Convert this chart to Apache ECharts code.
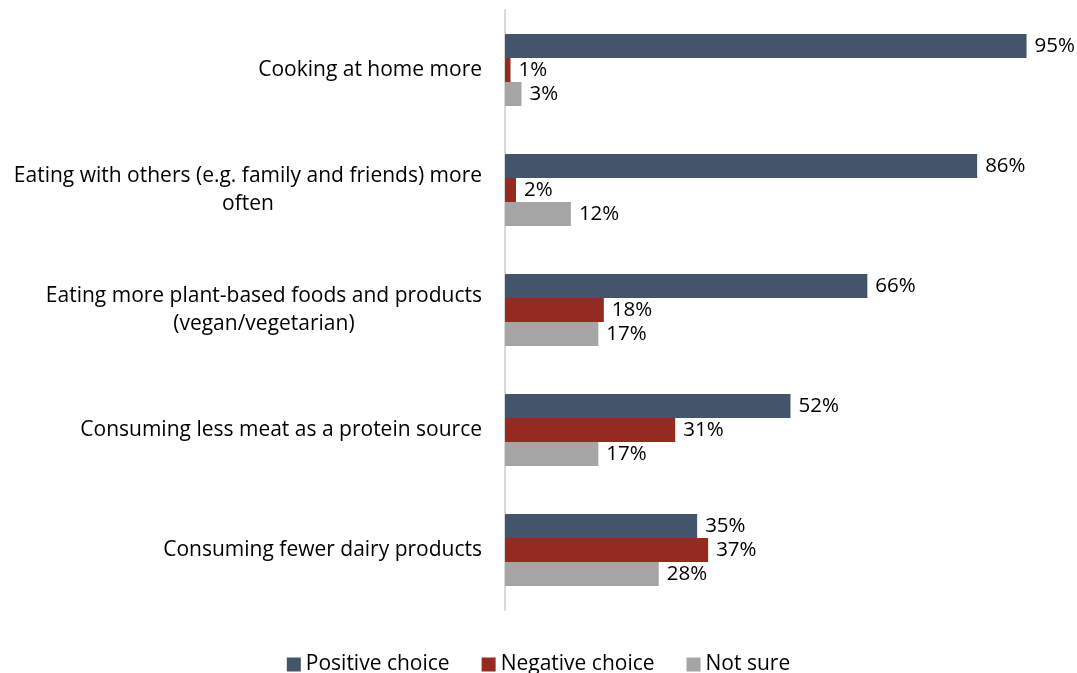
<!DOCTYPE html>
<html>
<head>
<meta charset="utf-8">
<script src="https://cdn.jsdelivr.net/npm/echarts@6/dist/echarts.min.js"></script>
<style>
  html, body { margin: 0; padding: 0; background: #fff; }
  #main { width: 1077px; height: 673px; }
</style>
</head>
<body>
<div id="main"></div>
<script>
const categories = [
  'Cooking at home more',
  'Eating with others (e.g. family and friends) more\noften',
  'Eating more plant-based foods and products\n(vegan/vegetarian)',
  'Consuming less meat as a protein source',
  'Consuming fewer dairy products'
]
const positive = [95, 86, 66, 52, 35]
const negative = [1, 2, 18, 31, 37]
const notSure = [3, 12, 17, 17, 28]

const font = '"Open Sans", "Noto Sans", sans-serif'

let myChart = echarts.init(document.getElementById('main'))

function barSeries(name, data, color) {
  return {
    name: name,
    type: 'bar',
    data: data,
    barGap: '0%',
    barCategoryGap: '40%',
    itemStyle: { color: color },
    label: {
      show: true,
      position: 'right',
      distance: 8,
      formatter: '{c}%',
      color: '#000',
      fontSize: 20.5,
      fontFamily: font
    }
  }
}

let option = {
  animation: false,
  textStyle: { fontFamily: font },
  grid: { left: 505, right: 23, top: 10, bottom: 63, containLabel: false },
  legend: {
    top: 649,
    itemWidth: 14,
    itemHeight: 14,
    itemGap: 32,
    icon: 'rect',
    textStyle: { fontSize: 21, color: '#000', fontFamily: font },
    data: ['Positive choice', 'Negative choice', 'Not sure']
  },
  xAxis: {
    type: 'value',
    min: 0,
    max: 100,
    show: false
  },
  yAxis: {
    type: 'category',
    inverse: true,
    data: categories,
    axisLine: { show: true, lineStyle: { color: '#d9d9d9', width: 2 } },
    axisTick: { show: false },
    axisLabel: {
      margin: 23,
      formatter: (v) => '{c|' + v.split('\n').join('}\n{c|') + '}',
      rich: {
        c: { align: 'center', fontSize: 21, lineHeight: 28, color: '#000', fontFamily: font }
      }
    }
  },
  series: [
    barSeries('Positive choice', positive, '#44546A'),
    barSeries('Negative choice', negative, '#952A20'),
    barSeries('Not sure', notSure, '#A5A5A5')
  ]
}
myChart.setOption(option)
</script>
</body>
</html>
